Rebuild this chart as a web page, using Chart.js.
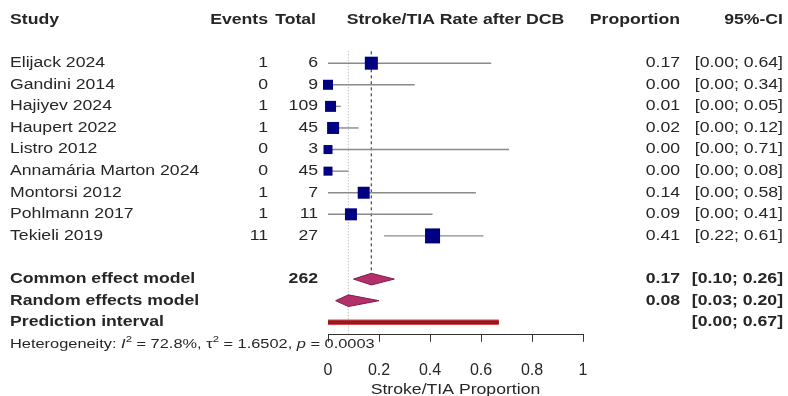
<!DOCTYPE html>
<html>
<head>
<meta charset="utf-8">
<script src="https://cdn.jsdelivr.net/npm/chart.js@4.4.1/dist/chart.umd.min.js"></script>
<style>
html, body { margin: 0; padding: 0; background: #fff; }
#wrap { width: 788px; height: 396px; }
</style>
</head>
<body>
<div id="wrap"><canvas id="forest"></canvas></div>
<script>
// study level data
const studies = ['Elijack 2024', 'Gandini 2014', 'Hajiyev 2024', 'Haupert 2022', 'Listro 2012',
    'Annamária Marton 2024', 'Montorsi 2012', 'Pohlmann 2017', 'Tekieli 2019'];
const events = [1, 0, 1, 1, 0, 0, 1, 1, 11];
const totals = [6, 9, 109, 45, 3, 45, 7, 11, 27];
const proportion = [0.17, 0.00, 0.01, 0.02, 0.00, 0.00, 0.14, 0.09, 0.41];
const ciLower = [0.00, 0.00, 0.00, 0.00, 0.00, 0.00, 0.00, 0.00, 0.22];
const ciUpper = [0.64, 0.34, 0.05, 0.12, 0.71, 0.08, 0.58, 0.41, 0.61];
const weights = [14.0, 8.3, 10.0, 11.9, 6.7, 6.7, 11.9, 11.9, 18.6];

// pooled estimates
const models = ['Common effect model', 'Random effects model'];
const modelEst = [0.17, 0.08];
const modelLower = [0.10, 0.03];
const modelUpper = [0.26, 0.20];
const predLower = 0.00;
const predUpper = 0.67;
const totalN = 262;
const i2 = 72.8, tau2 = 1.6502, pHet = 0.0003;

const xTicks = [0, 0.2, 0.4, 0.6, 0.8, 1];
const xTitle = 'Stroke/TIA Proportion';

const FONT = '"Liberation Sans", Arial, sans-serif';
const SX = 1.26; // the source font is wide
const TXT = '#262626';

const summaryRow = studies.length + 2;   // common effect
const predRow = summaryRow + 2;

let datasets = [];

// confidence intervals
studies.forEach((s, i) => {
    datasets.push({
        type: 'line', showLine: true,
        data: [{ x: ciLower[i], y: i + 1 }, { x: ciUpper[i], y: i + 1 }],
        borderColor: '#8a8a8a', borderWidth: 1.4, pointRadius: 0, clip: false, order: 3
    });
});

// reference lines for the two pooled estimates
datasets.push({
    type: 'line', showLine: true,
    data: [{ x: modelEst[0], y: 0.45 }, { x: modelEst[0], y: summaryRow - 0.28 }],
    borderColor: '#555', borderWidth: 1.3, borderDash: [3, 3], pointRadius: 0, order: 5
});
datasets.push({
    type: 'line', showLine: true,
    data: [{ x: modelEst[1], y: 0.45 }, { x: modelEst[1], y: predRow + 0.55 }],
    borderColor: '#aaa', borderWidth: 1, borderDash: [1, 2], pointRadius: 0, order: 6
});

// study boxes
datasets.push({
    type: 'scatter',
    data: studies.map((s, i) => ({ x: proportion[i], y: i + 1 })),
    pointStyle: 'rect',
    pointRadius: ctx => Math.sqrt(weights[ctx.dataIndex]) * 3.48 / Math.SQRT2,
    backgroundColor: '#000080', borderColor: '#000080', borderWidth: 0,
    clip: false, order: 0
});

// diamonds
models.forEach((m, k) => {
    const r = summaryRow + k;
    datasets.push({
        type: 'line', showLine: true,
        data: [{ x: modelLower[k], y: r }, { x: modelEst[k], y: r - 0.27 }, { x: modelUpper[k], y: r },
            { x: modelEst[k], y: r + 0.27 }, { x: modelLower[k], y: r }],
        fill: 'shape', backgroundColor: '#b5306a', borderColor: '#7d1f47', borderWidth: 1,
        pointRadius: 0, tension: 0, clip: false, order: 1
    });
});

// prediction interval
datasets.push({
    type: 'line', showLine: true,
    data: [{ x: predLower, y: predRow }, { x: predUpper, y: predRow }],
    borderColor: '#d9474f', borderWidth: 5.5, borderCapStyle: 'butt', pointRadius: 0, clip: false, order: 2
});
datasets.push({
    type: 'line', showLine: true,
    data: [{ x: predLower, y: predRow }, { x: predUpper, y: predRow }],
    borderColor: '#8f1b1f', borderWidth: 3.5, borderCapStyle: 'butt', pointRadius: 0, clip: false, order: 1
});

function txt(ctx, s, x, y, align, weight, size) {
    ctx.save();
    ctx.font = `${weight} ${size}px ${FONT}`;
    ctx.fillStyle = TXT;
    ctx.textBaseline = 'middle';
    ctx.textAlign = align;
    ctx.scale(SX, 1);
    ctx.fillText(s, x / SX, y);
    ctx.restore();
}

function ci(lo, hi) {
    return '[' + lo.toFixed(2) + '; ' + hi.toFixed(2) + ']';
}

const tablePlugin = {
    id: 'forestTable',
    afterDraw(chart) {
        const ctx = chart.ctx;
        const ys = chart.scales.y, xs = chart.scales.x;
        const row = r => ys.getPixelForValue(r);

        let y = row(-1);
        txt(ctx, 'Study', 10, y, 'left', 'bold', 14);
        txt(ctx, 'Events', 268, y, 'right', 'bold', 14);
        txt(ctx, 'Total', 316, y, 'right', 'bold', 14);
        txt(ctx, 'Stroke/TIA Rate after DCB', xs.getPixelForValue(0.5), y, 'center', 'bold', 14);
        txt(ctx, 'Proportion', 680, y, 'right', 'bold', 14);
        txt(ctx, '95%-CI', 783, y, 'right', 'bold', 14);

        studies.forEach((s, i) => {
            y = row(i + 1);
            txt(ctx, s, 10, y, 'left', 'normal', 14);
            txt(ctx, String(events[i]), 268, y, 'right', 'normal', 14);
            txt(ctx, String(totals[i]), 318, y, 'right', 'normal', 14);
            txt(ctx, proportion[i].toFixed(2), 680, y, 'right', 'normal', 14);
            txt(ctx, ci(ciLower[i], ciUpper[i]), 783, y, 'right', 'normal', 14);
        });

        models.forEach((m, k) => {
            y = row(summaryRow + k);
            txt(ctx, m, 10, y, 'left', 'bold', 14);
            txt(ctx, modelEst[k].toFixed(2), 680, y, 'right', 'bold', 14);
            txt(ctx, ci(modelLower[k], modelUpper[k]), 783, y, 'right', 'bold', 14);
        });
        txt(ctx, String(totalN), 318, row(summaryRow), 'right', 'bold', 14);

        y = row(predRow);
        txt(ctx, 'Prediction interval', 10, y, 'left', 'bold', 14);
        txt(ctx, ci(predLower, predUpper), 783, y, 'right', 'bold', 14);

        // axis title
        txt(ctx, xTitle, xs.getPixelForValue(0.5), xs.top + 55, 'center', 'normal', 14);

        // heterogeneity line with italics and superscripts
        y = row(predRow + 1) + 1;
        const parts = [
            ['Heterogeneity: ', 'normal', 13, 0],
            ['I', 'italic', 13, 0],
            ['2', 'normal', 9, -5],
            [' = ' + i2 + '%, ', 'normal', 13, 0],
            ['\u03c4', 'normal', 13, 0],
            ['2', 'normal', 9, -5],
            [' = ' + tau2.toFixed(4) + ', ', 'normal', 13, 0],
            ['p', 'italic', 13, 0],
            [' = ' + pHet.toFixed(4), 'normal', 13, 0]
        ];
        let x = 10;
        parts.forEach(p => {
            txt(ctx, p[0], x, y + p[3], 'left', p[1], p[2]);
            ctx.save();
            ctx.font = `${p[1]} ${p[2]}px ${FONT}`;
            x += ctx.measureText(p[0]).width * SX;
            ctx.restore();
        });
    }
};

new Chart(document.getElementById('forest'), {
    type: 'scatter',
    data: { datasets: datasets },
    options: {
        responsive: true,
        maintainAspectRatio: false,
        animation: false,
        layout: { padding: { left: 328, right: 205, top: 41.6, bottom: -3 } },
        plugins: { legend: { display: false }, tooltip: { enabled: false } },
        scales: {
            x: {
                type: 'linear', min: 0, max: 1, position: 'bottom',
                afterBuildTicks: axis => { axis.ticks = xTicks.map(v => ({ value: v })); },
                ticks: { font: { family: FONT, size: 16 }, color: TXT, padding: 19, maxRotation: 0,
                    callback: v => String(v) },
                grid: { drawOnChartArea: false, drawTicks: true, tickLength: 7, color: '#333' },
                border: { display: true, color: '#333', width: 1 }
            },
            y: { type: 'linear', display: false, reverse: true, min: 0, max: 13.58 }
        }
    },
    plugins: [tablePlugin]
});
</script>
</body>
</html>
